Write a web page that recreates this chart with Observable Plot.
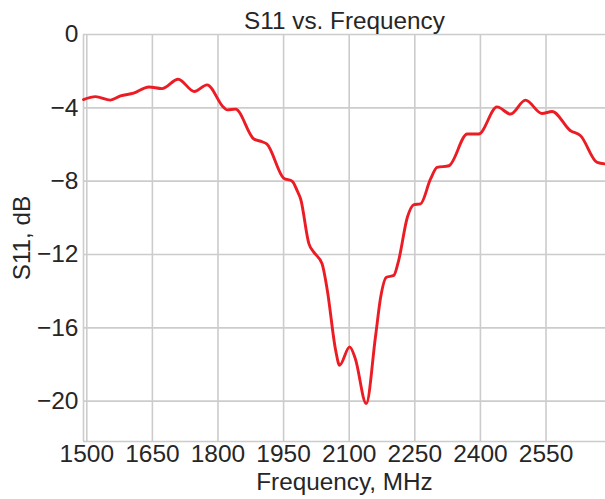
<!DOCTYPE html>
<html>
<head>
<meta charset="utf-8">
<script src="https://cdn.jsdelivr.net/npm/d3@7"></script>
<script src="https://cdn.jsdelivr.net/npm/@observablehq/plot@0.6"></script>
<style>
  html, body { margin: 0; padding: 0; background: #ffffff; }
  #chart svg { display: block; }
</style>
</head>
<body>
<div id="chart"></div>
<script>
const titleText = ["S11 vs. Frequency"];
const xLabelText = ["Frequency, MHz"];
const yLabelText = ["S11, dB"];
const xTicks = [1500, 1650, 1800, 1950, 2100, 2250, 2400, 2550];
const yTicks = [0, -4, -8, -12, -16, -20];
const xDomain = [1492.5, 2686];
const yDomain = [-22.2, 0];

const frequency = [1492.5, 1520, 1554, 1577, 1607, 1642, 1672, 1709, 1746, 1775,
  1813, 1821, 1840, 1882, 1901, 1912, 1950, 1970, 1981, 1989,
  2008, 2019, 2038, 2050, 2069, 2078, 2101, 2114, 2139, 2160,
  2172, 2185, 2202, 2213, 2233, 2248, 2263, 2286, 2301, 2328,
  2370, 2396, 2438, 2469, 2503, 2541, 2564, 2606, 2629, 2667, 2686];
const s11 = [-3.55, -3.39, -3.58, -3.35, -3.20, -2.86, -2.95, -2.44, -3.11, -2.75,
  -3.98, -4.11, -4.07, -5.70, -5.85, -5.98, -7.83, -8.01, -8.52, -8.97,
  -11.42, -11.87, -12.51, -13.96, -17.22, -18.04, -17.04, -17.68, -20.13, -16.50,
  -14.32, -13.24, -13.14, -12.33, -9.97, -9.28, -9.24, -7.88, -7.25, -7.16,
  -5.43, -5.43, -3.95, -4.34, -3.58, -4.31, -4.20, -5.25, -5.52, -6.98, -7.06];

const data = frequency.map((f, i) => ({f, v: s11[i]}));
const grid = "#cccccc";
const txt = "#262626";

const chart = Plot.plot({
  width: 605,
  height: 499,
  marginLeft: 83,
  marginRight: 0,
  marginTop: 34,
  marginBottom: 58,
  style: {fontFamily: "'Liberation Sans', Arial, sans-serif", background: "#ffffff", color: txt},
  x: {domain: xDomain, label: null},
  y: {domain: yDomain, label: null},
  marks: [
    Plot.gridX(xTicks, {stroke: grid, strokeOpacity: 1, strokeWidth: 1.6}),
    Plot.gridY(yTicks, {stroke: grid, strokeOpacity: 1, strokeWidth: 1.6}),
    Plot.ruleX([xDomain[0]], {stroke: grid, strokeWidth: 1.6}),
    Plot.ruleY([yDomain[0]], {stroke: grid, strokeWidth: 1.6}),
    Plot.axisX(xTicks, {tickSize: 0, tickPadding: 3, fontSize: 24.5, fill: txt, label: null, tickFormat: d3.format("d")}),
    Plot.axisY(yTicks, {tickSize: 0, tickPadding: 5, fontSize: 24.5, fill: txt, label: null, tickFormat: d3.format("d")}),
    Plot.line(data, {x: "f", y: "v", stroke: "#ec1c24", strokeWidth: 2.9, curve: "monotone-x"}),
    Plot.text(titleText, {frameAnchor: "top", lineAnchor: "top", dy: -23, fontSize: 24.3, fill: txt}),
    Plot.text(xLabelText, {frameAnchor: "bottom", lineAnchor: "bottom", dy: 48, fontSize: 24.3, fill: txt}),
    Plot.text(yLabelText, {frameAnchor: "left", textAnchor: "middle", lineAnchor: "middle", dx: -61, rotate: -90, fontSize: 24.3, fill: txt})
  ]
});
document.getElementById("chart").appendChild(chart);
</script>
</body>
</html>
